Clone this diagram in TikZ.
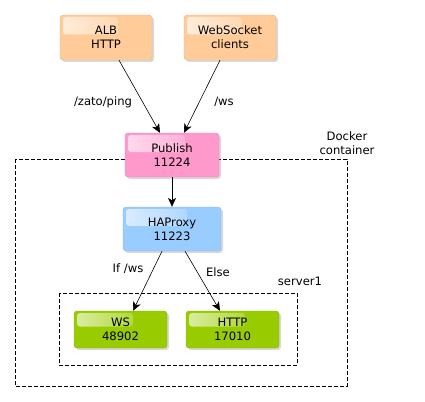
\documentclass[tikz,border=0pt]{standalone}
\usepackage{fontspec}
\setmainfont{DejaVu Sans}
\usetikzlibrary{arrows.meta,shadows}

\definecolor{lbcol}{HTML}{FFCC99}
\definecolor{pubcol}{HTML}{FF99CC}
\definecolor{hapcol}{HTML}{99CCFF}
\definecolor{srvcol}{HTML}{99CC00}

\tikzset{
  box/.style={draw=#1!88!black, line width=.3pt, fill=#1, rounded corners=3pt,
    align=center, inner sep=0pt,
    drop shadow={shadow xshift=2pt, shadow yshift=-2pt, opacity=.3},
    path picture={\shade[left color=white!65!#1, right color=#1, rounded corners=3pt]
      ([shift={(3pt,-2pt)}]path picture bounding box.north west) rectangle
      ([shift={(-34pt,3pt)}]path picture bounding box.east);}},
  frame/.style={draw, dash pattern=on 4pt off 2pt, line width=.6pt},
  link/.style={-{Stealth[length=9pt,width=8pt,inset=2.5pt]}, line width=.6pt},
  lbl/.style={inner sep=0pt, align=center}
}

\begin{document}
\begin{tikzpicture}[x=1pt, y=-1pt, every node/.style={font=\fontsize{11.6}{14}\selectfont}]
  \useasboundingbox (0,0) rectangle (425,401);

  % containers
  \draw[frame] (15,159) rectangle (347,386);
  \draw[frame] (59,293) rectangle (297,365);
  \node[lbl] (docker) at (347,143) {Docker\\container};
  \node[lbl] (srv) at (300,281) {server1};

  % boxes
  \node[box=lbcol, minimum width=92pt, minimum height=45pt] (alb) at (106,37.5) {ALB\\HTTP};
  \node[box=lbcol, minimum width=92pt, minimum height=45pt] (wsc) at (230,37.5) {WebSocket\\clients};
  \node[box=pubcol, minimum width=94pt, minimum height=44pt] (pub) at (172,155) {Publish\\11224};
  \node[box=hapcol, minimum width=98pt, minimum height=44pt] (hap) at (172,229) {HAProxy\\11223};
  \node[box=srvcol, minimum width=93pt, minimum height=37pt] (ws) at (120.5,329.5) {WS\\48902};
  \node[box=srvcol, minimum width=93pt, minimum height=37pt] (http) at (232.5,329.5) {HTTP\\17010};

  % connectors
  \draw[link] ([xshift=13pt]alb.south) -- ([xshift=-12pt]pub.north);
  \draw[link] ([xshift=-10pt]wsc.south) -- ([xshift=12pt]pub.north);
  \draw[link] (pub) -- (hap);
  \draw[link] ([xshift=-10pt]hap.south) -- ([xshift=12.5pt]ws.north);
  \draw[link] ([xshift=13pt]hap.south) -- ([xshift=-12.5pt]http.north);

  \node[lbl] (ping) at (103,102) {/zato/ping};
  \node[lbl] (wsp) at (224,102) {/ws};
  \node[lbl] (ifws) at (128,269) {If /ws};
  \node[lbl] (else) at (218,272) {Else};
\end{tikzpicture}
\end{document}
